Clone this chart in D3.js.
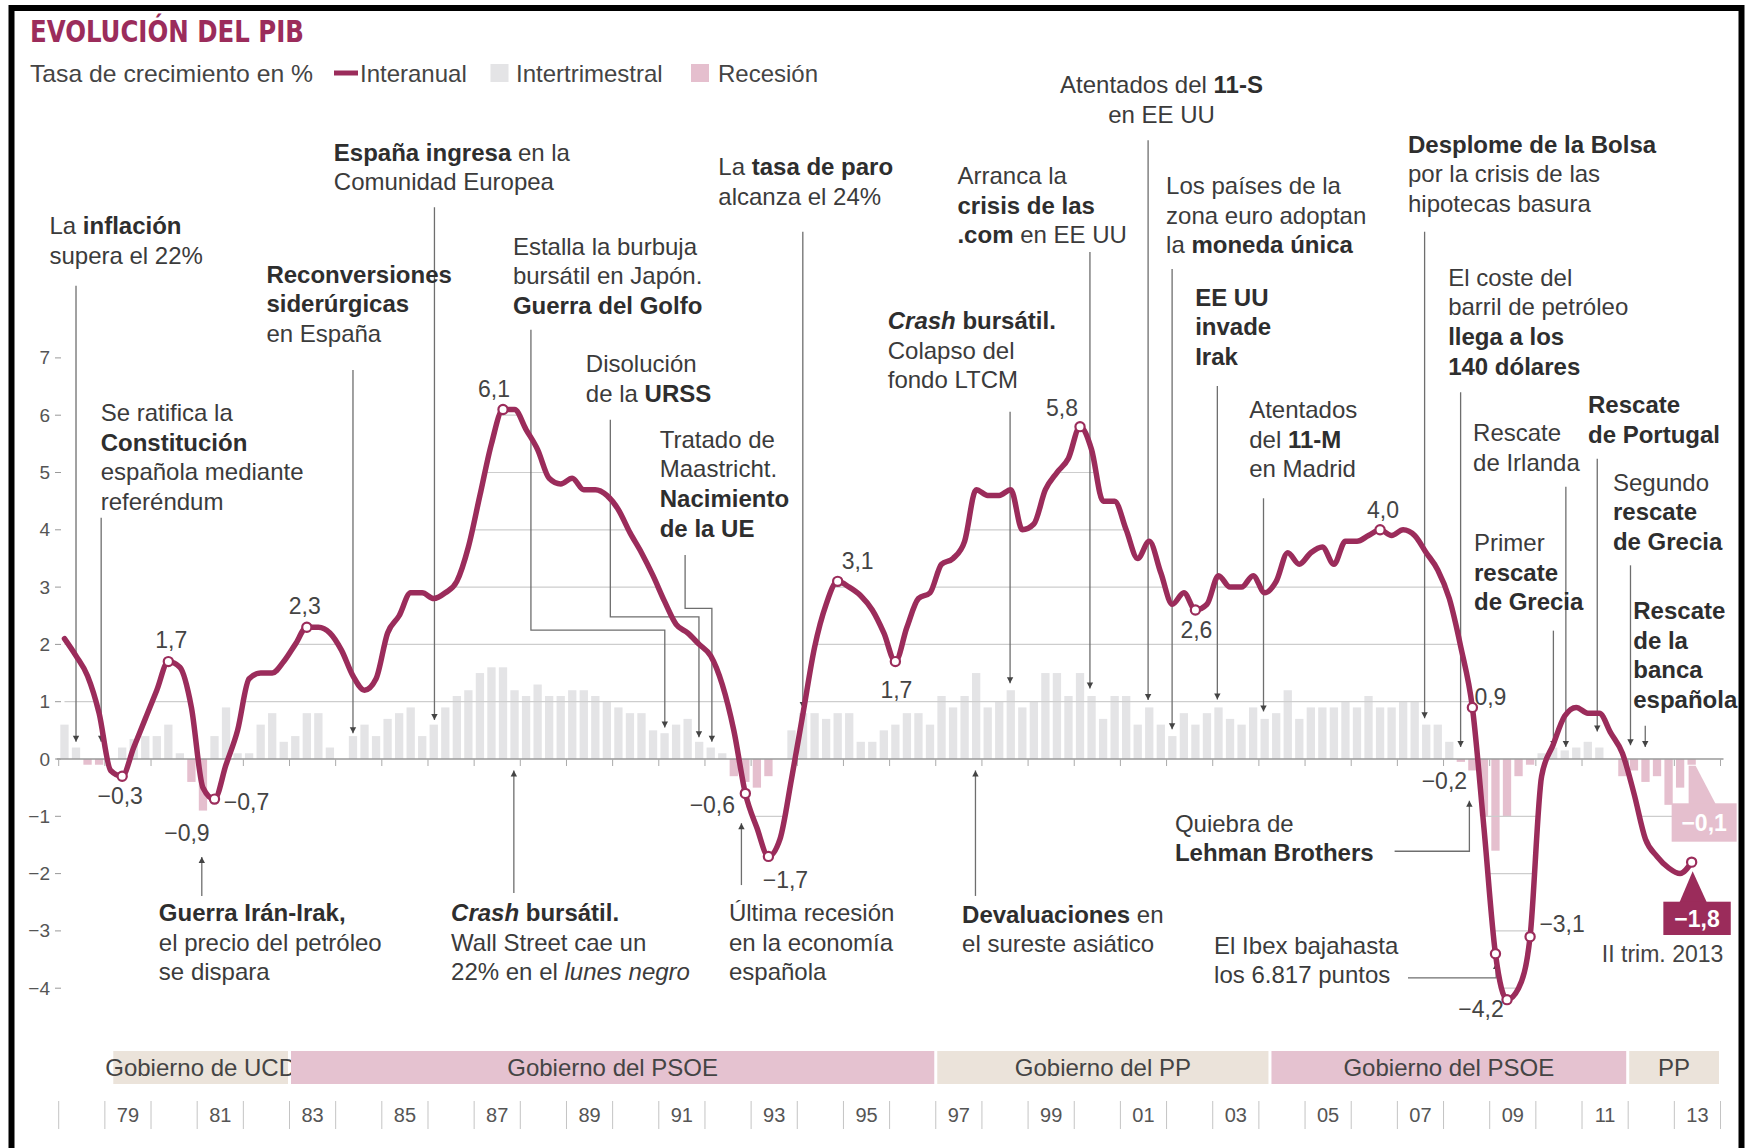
<!DOCTYPE html>
<html lang="es"><head><meta charset="utf-8">
<script src="https://cdn.jsdelivr.net/npm/d3@7/dist/d3.min.js"></script>
<style>
html,body{margin:0;padding:0;background:#fff;}
svg{display:block;}
text{font-family:"Liberation Sans",Arial,Helvetica,sans-serif;white-space:pre;}
</style></head><body>
<svg id="chart" width="1756" height="1148"></svg>
<script>
// ---------------- DATA ----------------
const startYear = 1978;            // first quarter = 1978 Q1
// Interannual GDP growth (%), quarterly 1978Q1 .. 2013Q2
const interanual = [
  2.1, 1.8, 1.45, 0.8,   -0.2, -0.3, 0.2, 0.7,   1.2, 1.7, 1.6, 0.9,   -0.5, -0.7, -0.1, 0.5,
  1.4, 1.5, 1.5, 1.7,    2.0, 2.3, 2.3, 2.2,     1.9, 1.45, 1.2, 1.4,  2.2, 2.5, 2.9, 2.9,
  2.8, 2.9, 3.1, 3.7,    4.6, 5.5, 6.1, 6.1,     5.75, 5.4, 4.9, 4.8,  4.9, 4.7, 4.7, 4.6,
  4.35, 3.95, 3.6, 3.2,  2.75, 2.35, 2.2, 2.0,   1.8, 1.3, 0.5, -0.6,  -1.2, -1.7, -1.4, -0.35,
  0.8, 1.95, 2.7, 3.1,   3.0, 2.85, 2.6, 2.2,    1.7, 2.3, 2.8, 2.9,   3.4, 3.5, 3.8, 4.7,
  4.6, 4.6, 4.7, 4.0,    4.1, 4.7, 5.0, 5.25,    5.8, 5.4, 4.5, 4.5,   4.0, 3.5, 3.8, 3.25,
  2.7, 2.9, 2.6, 2.7,    3.2, 3.0, 3.0, 3.2,     2.9, 3.1, 3.6, 3.4,   3.6, 3.7, 3.4, 3.8,
  3.8, 3.9, 4.0, 3.9,    4.0, 3.9, 3.6, 3.3,     2.8, 1.95, 0.9, -1.2, -3.4, -4.2, -4.0, -3.1,
  -0.3, 0.25, 0.75, 0.9, 0.8, 0.8, 0.45, 0.1,    -0.6, -1.4, -1.7, -1.9, -2.0, -1.8
];
// Quarter-on-quarter GDP growth (%), same quarters
const intertrimestral = [
  0.6, 0.2, -0.1, -0.1,  0.0, 0.2, 0.35, 0.4,    0.4, 0.6, 0.1, -0.4,  -0.9, 0.4, 0.9, 0.1,
  0.1, 0.6, 0.8, 0.3,    0.4, 0.8, 0.8, 0.2,     0.0, 0.4, 0.6, 0.4,   0.7, 0.8, 0.9, 0.4,
  0.6, 0.9, 1.1, 1.2,    1.5, 1.6, 1.6, 1.2,     1.1, 1.3, 1.1, 1.1,   1.2, 1.2, 1.1, 1.0,
  0.9, 0.8, 0.8, 0.5,    0.45, 0.6, 0.7, 0.3,    0.2, 0.1, -0.3, -0.4, -0.5, -0.3, 0.0, 0.5,
  0.8, 0.8, 0.7, 0.8,    0.8, 0.3, 0.3, 0.5,     0.6, 0.8, 0.8, 0.6,   1.1, 0.9, 1.1, 1.5,
  0.9, 1.0, 1.2, 0.9,    1.0, 1.5, 1.5, 1.1,     1.5, 1.1, 0.7, 1.1,   1.1, 0.6, 0.9, 0.6,
  0.4, 0.8, 0.6, 0.8,    0.9, 0.7, 0.6, 0.9,     0.7, 0.8, 1.2, 0.7,   0.9, 0.9, 0.9, 1.0,
  0.9, 1.1, 0.9, 0.9,    1.0, 1.0, 0.6, 0.6,     0.3, -0.05, -0.2, -1.0, -1.6, -1.0, -0.3, -0.1,
  0.1, 0.2, 0.15, 0.2,   0.3, 0.2, 0.0, -0.3,    -0.2, -0.4, -0.3, -0.8, -0.5, -0.1
];
const yTicks = [7, 6, 5, 4, 3, 2, 1, 0, -1, -2, -3, -4];
const gridValues = [6, 5, 4, 3, 2, 1, -1, -2, -3, -4];
const yearLabels = ["79","81","83","85","87","89","91","93","95","97","99","01","03","05","07","09","11","13"];
const govLabels = ["Gobierno de UCD", "Gobierno del PSOE", "Gobierno del PP", "Gobierno del PSOE", "PP"];
const govParty  = ["ucd", "psoe", "pp", "psoe", "pp"];
const govStart  = [1979.15, 1983.0, 1997.0, 2004.24, 2011.99];
const govEnd    = [1983.0, 1997.0, 2004.24, 2011.99, 2014.0];
const markedQuarters = [5, 9, 13, 21, 38, 59, 61, 67, 72, 88, 98, 114, 122, 124, 125, 127];
const labelledLineQuarters = [5, 9, 13, 21, 38, 59, 61, 67, 72, 88, 98, 114, 122, 125, 127];
const labelledBarQuarters = [12, 122];
const lastQuarter = interanual.length - 1;
const lastLabel = "II trim. 2013";
const legendTitle = "Tasa de crecimiento en %";
const legendNames = ["Interanual", "Intertrimestral", "Recesión"];
const chartTitle = "EVOLUCIÓN DEL PIB";

// events (** = bold, _ = italic)
const eventTexts = [
  ["La **inflación**", "supera el 22%"],
  ["Se ratifica la", "**Constitución**", "española mediante", "referéndum"],
  ["**Reconversiones**", "**siderúrgicas**", "en España"],
  ["**España ingresa** en la", "Comunidad Europea"],
  ["Estalla la burbuja", "bursátil en Japón.", "**Guerra del Golfo**"],
  ["Disolución", "de la **URSS**"],
  ["Tratado de", "Maastricht.", "**Nacimiento**", "**de la UE**"],
  ["La **tasa de paro**", "alcanza el 24%"],
  ["**_Crash_ bursátil.**", "Colapso del", "fondo LTCM"],
  ["Arranca la", "**crisis de las**", "**.com** en EE UU"],
  ["Atentados del **11-S**", "en EE UU"],
  ["Los países de la", "zona euro adoptan", "la **moneda única**"],
  ["**EE UU**", "**invade**", "**Irak**"],
  ["Atentados", "del **11-M**", "en Madrid"],
  ["**Desplome de la Bolsa**", "por la crisis de las", "hipotecas basura"],
  ["El coste del", "barril de petróleo", "**llega a los**", "**140 dólares**"],
  ["Primer", "**rescate**", "**de Grecia**"],
  ["Rescate", "de Irlanda"],
  ["**Rescate**", "**de Portugal**"],
  ["Segundo", "**rescate**", "**de Grecia**"],
  ["**Rescate**", "**de la**", "**banca**", "**española**"],
  ["**Guerra Irán-Irak,**", "el precio del petróleo", "se dispara"],
  ["**_Crash_ bursátil.**", "Wall Street cae un", "22% en el _lunes negro_"],
  ["Última recesión", "en la economía", "española"],
  ["**Devaluaciones** en", "el sureste asiático"],
  ["Quiebra de", "**Lehman Brothers**"],
  ["El Ibex bajahasta", "los 6.817 puntos"]
];
const eventDates = [1978.375, 1978.92, 1984.375, 1986.14, 1991.13, 1991.87, 1992.15, 1994.12,
  1998.61, 2000.34, 2001.60, 2002.12, 2003.10, 2004.10, 2007.59, 2008.37, 2010.38, 2010.65,
  2011.33, 2012.05, 2012.37, 1981.10, 1987.86, 1992.79, 1997.86, 2008.56, 2009.14];

// ---------------- LAYOUT (positions in data units) ----------------
const eventLayout = [
  {tx:1977.80, ty:9.16, leader:[8.26, 0.30]},
  {tx:1978.91, ty:5.90, leader:[4.21, 0.30]},
  {tx:1982.50, ty:8.31, leader:[6.79, 0.45]},
  {tx:1983.96, ty:10.44, leader:[9.63, 0.68]},
  {tx:1987.84, ty:8.80, path:[[1988.23, 7.49],[1988.23, 2.25],[null, 2.25],[null, 0.55]]},
  {tx:1989.42, ty:6.75, path:[[1989.95, 5.92],[1989.95, 2.48],[null, 2.48],[null, 0.38]]},
  {tx:1991.02, ty:5.43, path:[[1991.57, 3.56],[1991.57, 2.63],[null, 2.63],[null, 0.30]]},
  {tx:1992.29, ty:10.19, leader:[9.20, 0.89]},
  {tx:1995.96, ty:7.50, leader:[6.06, 1.32]},
  {tx:1997.47, ty:10.03, leader:[8.85, 1.23]},
  {tx:2001.89, ty:11.62, anchor:"middle", leader:[10.80, 1.03]},
  {tx:2001.99, ty:9.86, leader:[8.55, 0.52]},
  {tx:2002.62, ty:7.91, leader:[6.51, 1.04]},
  {tx:2003.79, ty:5.95, leader:[4.55, 0.83]},
  {tx:2007.23, ty:10.58, leader:[9.20, 0.71]},
  {tx:2008.10, ty:8.26, leader:[6.40, 0.21]},
  {tx:2008.66, ty:3.63, leader:[2.24, 0.21]},
  {tx:2008.64, ty:5.55, leader:[4.75, 0.21]},
  {tx:2011.13, ty:6.04, leader:[5.24, 0.48]},
  {tx:2011.67, ty:4.68, leader:[3.38, 0.24]},
  {tx:2012.11, ty:2.44, leader:[0.58, 0.21]},
  {tx:1980.17, ty:-2.83, leader:[-2.39, -1.71]},
  {tx:1986.50, ty:-2.83, leader:[-2.34, -0.20]},
  {tx:1992.52, ty:-2.83, leader:[-2.20, -1.12]},
  {tx:1997.57, ty:-2.86, leader:[-2.39, -0.20]},
  {tx:2002.18, ty:-1.27, path:[[2006.94, -1.61],[null, -1.61],[null, -0.73]]},
  {tx:2003.03, ty:-3.40, path:[[2007.23, -3.82],[null, -3.82],[null, -3.56]]}
];
// label offsets (px) relative to their marker / bar end
const lineLabelOffset = {5:[-2,28], 9:[3,-14], 13:[32,11], 21:[-2,-13], 38:[-9,-12], 59:[-33,20],
  61:[17,32], 67:[20,-12], 72:[1,36], 88:[-18,-11], 98:[1,28], 114:[3,-12], 122:[18,-2],
  125:[-26,17], 127:[32,-5]};
const barLabelOffset = {12:[-16,30], 122:[-28,19]};

// ---------------- STYLE ----------------
const maroon = "#9b2c5b", greyBar = "#e4e4e6", pinkBar = "#e5bfce";
const textCol = "#3b3b3b", leaderCol = "#6e6e6e", gridCol = "#cdcdcd";
const FS = 24, LH = 29.6;

// ---------------- SCALES ----------------
const x = d3.scaleLinear().domain([1978, 2014]).range([58.7, 1720.5]);
const y = d3.scaleLinear().domain([-4, 7]).range([988.2, 357.9]);
const tq = k => startYear + k / 4 + 0.125;
const fmt = v => d3.format(".1f")(v).replace(".", ",").replace("-", "\u2212");

const svg = d3.select("#chart");

// frame
svg.append("rect").attr("x", 11.5).attr("y", 8).attr("width", 1730).attr("height", 1220)
  .attr("fill", "none").attr("stroke", "#000").attr("stroke-width", 6);

// title
svg.append("text").attr("x", 30).attr("y", 41.5).text(chartTitle)
  .style("font-family", '"Liberation Sans Narrow","DejaVu Sans Condensed",sans-serif')
  .attr("font-weight", "bold").attr("font-size", 30).attr("fill", maroon)
  .attr("textLength", 274).attr("lengthAdjust", "spacingAndGlyphs");

// legend
const lg = svg.append("g").attr("font-size", FS).attr("fill", "#444");
lg.append("text").attr("x", 30).attr("y", 81.5).text(legendTitle)
  .attr("textLength", 283).attr("lengthAdjust", "spacingAndGlyphs");
lg.append("line").attr("x1", 334).attr("x2", 358).attr("y1", 73).attr("y2", 73)
  .attr("stroke", maroon).attr("stroke-width", 5);
lg.append("text").attr("x", 360).attr("y", 81.5).text(legendNames[0]);
lg.append("rect").attr("x", 490.5).attr("y", 64).attr("width", 18).attr("height", 18).attr("fill", greyBar);
lg.append("text").attr("x", 516).attr("y", 81.5).text(legendNames[1]);
lg.append("rect").attr("x", 691).attr("y", 64).attr("width", 18).attr("height", 18).attr("fill", pinkBar);
lg.append("text").attr("x", 718).attr("y", 81.5).text(legendNames[2]);

// y axis labels
const ya = svg.append("g");
yTicks.forEach(v => {
  ya.append("text").attr("x", 50).attr("y", y(v) + 6.5).attr("text-anchor", "end")
    .attr("font-size", 19).attr("fill", "#555").text(v < 0 ? "\u2212" + Math.abs(v) : v);
  ya.append("line").attr("x1", 55).attr("x2", 61).attr("y1", y(v)).attr("y2", y(v))
    .attr("stroke", "#999").attr("stroke-width", 1);
});

// bars
svg.append("g").selectAll("rect").data(intertrimestral).join("rect")
  .attr("x", (d, i) => x(tq(i)) - 4.15).attr("width", 8.3)
  .attr("y", d => y(Math.max(0, d))).attr("height", d => Math.abs(y(d) - y(0)))
  .attr("fill", d => d < 0 ? pinkBar : greyBar);

// gridlines clipped to area between curve and zero
const area = d3.area().x((d, i) => x(tq(i))).y0(y(0)).y1(d => y(d)).curve(d3.curveMonotoneX);
svg.append("clipPath").attr("id", "under").append("path").attr("d", area(interanual));
svg.append("g").attr("clip-path", "url(#under)").selectAll("line").data(gridValues).join("line")
  .attr("x1", x(1978)).attr("x2", x(2014)).attr("y1", d => y(d)).attr("y2", d => y(d))
  .attr("stroke", gridCol).attr("stroke-width", 1.2);

// zero axis + year ticks
svg.append("line").attr("x1", x(1978) - 2).attr("x2", x(2014) + 3).attr("y1", y(0)).attr("y2", y(0))
  .attr("stroke", "#9a9a9a").attr("stroke-width", 1.5);
svg.append("g").selectAll("line").data(d3.range(1978, 2015)).join("line")
  .attr("x1", d => x(d)).attr("x2", d => x(d)).attr("y1", y(0)).attr("y2", y(0) + 7)
  .attr("stroke", "#aaa").attr("stroke-width", 1);

// leaders
const lead = svg.append("g");
eventLayout.forEach((L, i) => {
  const dt = eventDates[i];
  let pts = L.leader ? [[dt, L.leader[0]], [dt, L.leader[1]]] : L.path.map(p => [p[0] === null ? dt : p[0], p[1]]);
  pts = pts.map(p => [x(p[0]), y(p[1])]);
  lead.append("path").attr("d", d3.line()(pts)).attr("fill", "none")
    .attr("stroke", leaderCol).attr("stroke-width", 1.3);
  const a = pts[pts.length - 1], b = pts[pts.length - 2];
  const dx = a[0] - b[0], dy = a[1] - b[1], len = Math.hypot(dx, dy) || 1;
  const ux = dx / len, uy = dy / len;
  lead.append("path").attr("d", d3.line()([
    [a[0], a[1]], [a[0] - ux * 6 - uy * 3.2, a[1] - uy * 6 + ux * 3.2], [a[0] - ux * 6 + uy * 3.2, a[1] - uy * 6 - ux * 3.2]
  ]) + "Z").attr("fill", "#444");
});

// interannual line
svg.append("path").datum(interanual)
  .attr("d", d3.line().x((d, i) => x(tq(i))).y(d => y(d)).curve(d3.curveMonotoneX))
  .attr("fill", "none").attr("stroke", maroon).attr("stroke-width", 5.5)
  .attr("stroke-linejoin", "round").attr("stroke-linecap", "round");

// markers
svg.append("g").selectAll("circle").data(markedQuarters.concat([lastQuarter])).join("circle")
  .attr("cx", k => x(tq(k))).attr("cy", k => y(interanual[k])).attr("r", 4.6)
  .attr("fill", "#fff").attr("stroke", maroon).attr("stroke-width", 2.2);

// value labels
const vl = svg.append("g").attr("font-size", 23).attr("fill", "#444").attr("text-anchor", "middle");
labelledLineQuarters.forEach(k => {
  const o = lineLabelOffset[k];
  vl.append("text").attr("x", x(tq(k)) + o[0]).attr("y", y(interanual[k]) + o[1]).text(fmt(interanual[k]));
});
labelledBarQuarters.forEach(k => {
  const o = barLabelOffset[k];
  vl.append("text").attr("x", x(tq(k)) + o[0]).attr("y", y(intertrimestral[k]) + o[1]).text(fmt(intertrimestral[k]));
});

// last quarter callouts
const xl = x(tq(lastQuarter));
const ylLine = y(interanual[lastQuarter]), ylBar = y(intertrimestral[lastQuarter]);
svg.append("path").attr("d", d3.line()([[xl - 3, ylBar + 1], [xl + 4, ylBar + 1], [xl + 24, 804], [xl - 3, 804]]) + "Z").attr("fill", pinkBar);
svg.append("rect").attr("x", xl - 20).attr("y", 803.3).attr("width", 65).attr("height", 38.4).attr("fill", pinkBar);
svg.append("text").attr("x", xl + 12.5).attr("y", 831).attr("text-anchor", "middle").attr("font-size", 23)
  .attr("font-weight", "bold").attr("fill", "#fff").text(fmt(intertrimestral[lastQuarter]));
svg.append("path").attr("d", d3.line()([[xl + 1, ylLine + 9], [xl - 12, 902], [xl + 15, 902]]) + "Z").attr("fill", maroon);
svg.append("rect").attr("x", xl - 28.3).attr("y", 901.7).attr("width", 67.4).attr("height", 33.3).attr("fill", maroon);
svg.append("text").attr("x", xl + 5.4).attr("y", 926.5).attr("text-anchor", "middle").attr("font-size", 23)
  .attr("font-weight", "bold").attr("fill", "#fff").text(fmt(interanual[lastQuarter]));
svg.append("text").attr("x", x(2011.43)).attr("y", y(-3.54)).attr("font-size", 23).attr("fill", "#444").text(lastLabel);

// annotation texts
function parseMarkup(s) {
  const segs = []; let b = false, it = false, buf = "";
  for (let i = 0; i < s.length; i++) {
    if (s[i] === "*" && s[i + 1] === "*") { if (buf) segs.push({t: buf, b, it}); buf = ""; b = !b; i++; continue; }
    if (s[i] === "_") { if (buf) segs.push({t: buf, b, it}); buf = ""; it = !it; continue; }
    buf += s[i];
  }
  if (buf) segs.push({t: buf, b, it});
  return segs;
}
const an = svg.append("g").attr("font-size", FS).attr("fill", textCol);
eventTexts.forEach((lines, i) => {
  const L = eventLayout[i];
  lines.forEach((ln, j) => {
    const t = an.append("text").attr("x", x(L.tx)).attr("y", y(L.ty) + j * LH)
      .attr("text-anchor", L.anchor || "start");
    parseMarkup(ln).forEach(s => {
      t.append("tspan").text(s.t).attr("font-weight", s.b ? "bold" : null)
        .attr("font-style", s.it ? "italic" : null).attr("fill", s.b ? "#2e2e2e" : null);
    });
  });
});

// government band
const gb = svg.append("g");
govLabels.forEach((g, i) => {
  gb.append("rect").attr("x", x(govStart[i]) + 1.5).attr("y", 1051)
    .attr("width", x(govEnd[i]) - x(govStart[i]) - 3).attr("height", 33)
    .attr("fill", govParty[i] === "psoe" ? "#e5c2d0" : "#ebe3da");
  gb.append("text").attr("x", (x(govStart[i]) + x(govEnd[i])) / 2).attr("y", 1075.5)
    .attr("text-anchor", "middle").attr("font-size", FS).attr("fill", "#444").text(g);
});

// year axis
const yb = svg.append("g");
yb.selectAll("line").data(d3.range(1978, 2015)).join("line")
  .attr("x1", d => x(d)).attr("x2", d => x(d)).attr("y1", 1101).attr("y2", 1129)
  .attr("stroke", "#c4c4c4").attr("stroke-width", 1);
yb.selectAll("text").data(yearLabels).join("text")
  .attr("x", l => x((+l < 50 ? 2000 : 1900) + +l + 0.5)).attr("y", 1122)
  .attr("text-anchor", "middle").attr("font-size", 20).attr("fill", "#555").text(l => l);
</script>
</body></html>
